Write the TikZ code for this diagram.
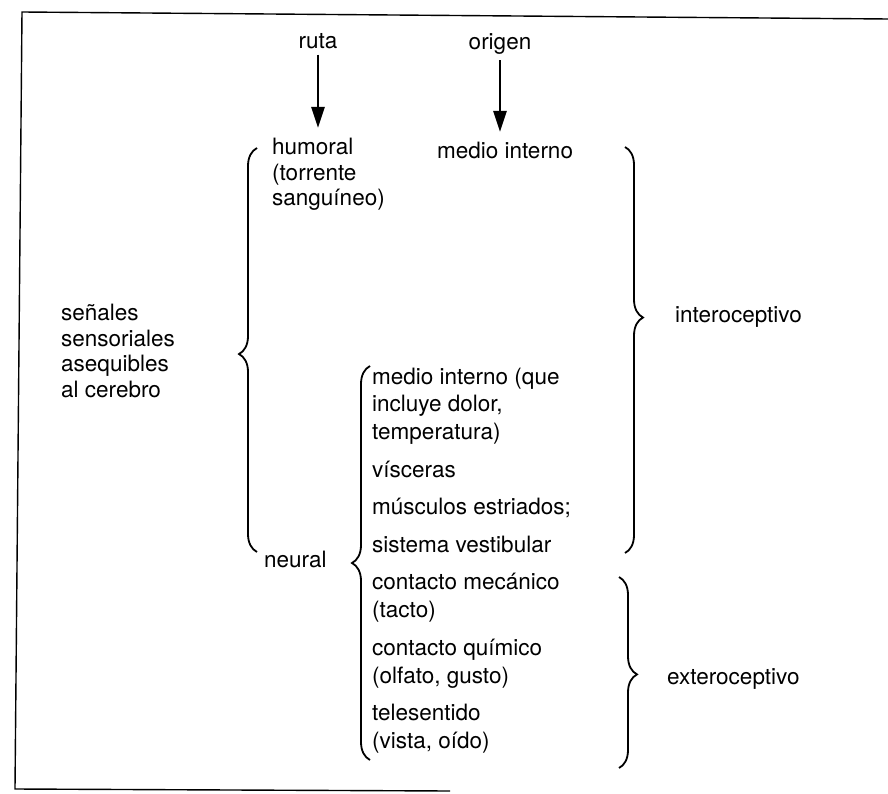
\documentclass[tikz,border=0pt]{standalone}
\usepackage{fontspec}
\setmainfont{TeX Gyre Heros}
\usetikzlibrary{arrows.meta,decorations.pathreplacing}

\begin{document}
\begin{tikzpicture}
                [x=1pt, y=-1pt,
                 texto/.style={inner sep=0pt, font=\fontsize{22.5}{25.5}\selectfont},
                 lista/.style={texto, anchor=base west, align=left, font=\fontsize{22.5}{27.5}\selectfont},
                 flecha/.style={draw, line width=2.6pt, -{Triangle[length=21pt,width=13pt]}, shorten <=5pt},
                 llave/.style={draw, line width=1.8pt, decorate, decoration={brace, amplitude=18pt, aspect=#1}},
                 llave/.default=0.5,
                 marco/.style={draw, line width=1.4pt}]
                \useasboundingbox (0,0) rectangle (888,794);
                % Marco
                \draw[marco] (888,19) -- (22,12) -- (15,789) -- (450,791);
                % Define nodes (multi-line nodes sit on their last line)
                \node[texto, anchor=base] (ruta) at (318,49) {ruta};
                \node[texto, anchor=base] (origen) at (500,50) {origen};
                \node[texto, anchor=base west, align=left] (humoral) at (272,206) {humoral\\(torrente\\sanguíneo)};
                \node[texto, anchor=base] (medio) at (505,159) {medio interno};
                \node[texto, anchor=base west, align=left] (senales) at (61,397) {señales\\sensoriales\\asequibles\\al cerebro};
                \node[texto, anchor=base west] (neural) at (264,567) {neural};
                \node[lista] (interno) at (372,439) {medio interno (que\\incluye dolor,\\temperatura)};
                \node[lista] (visceras) at (372,477) {vísceras};
                \node[lista] (musculos) at (372,514) {músculos estriados;};
                \node[lista] (vestibular) at (372,552) {sistema vestibular};
                \node[lista] (mecanico) at (372,617) {contacto mecánico\\(tacto)};
                \node[lista] (quimico) at (372,683) {contacto químico\\(olfato, gusto)};
                \node[lista] (telesentido) at (372,748) {telesentido\\(vista, oído)};
                \node[texto, anchor=base west] (intero) at (675,322) {interoceptivo};
                \node[texto, anchor=base west] (extero) at (667,684) {exteroceptivo};
                % Define brace ends
                \coordinate (rutaTip) at (318,128);
                \coordinate (origenTip) at (500,132);
                \coordinate (senalesBot) at (257,552);
                \coordinate (senalesTop) at (257,148);
                \coordinate (neuralBot) at (370,760);
                \coordinate (neuralTop) at (370,366);
                \coordinate (interoTop) at (625,147);
                \coordinate (interoBot) at (625,553);
                \coordinate (exteroTop) at (619,577);
                \coordinate (exteroBot) at (619,768);
                % Define edges
                \draw[flecha] (ruta) -- (rutaTip);
                \draw[flecha] (origen) -- (origenTip);
                \draw[llave=0.49] (senalesBot) -- (senalesTop);
                \draw[llave=0.5] (neuralBot) -- (neuralTop);
                \draw[llave=0.42] (interoTop) -- (interoBot);
                \draw[llave=0.51] (exteroTop) -- (exteroBot);
            \end{tikzpicture}
\end{document}
